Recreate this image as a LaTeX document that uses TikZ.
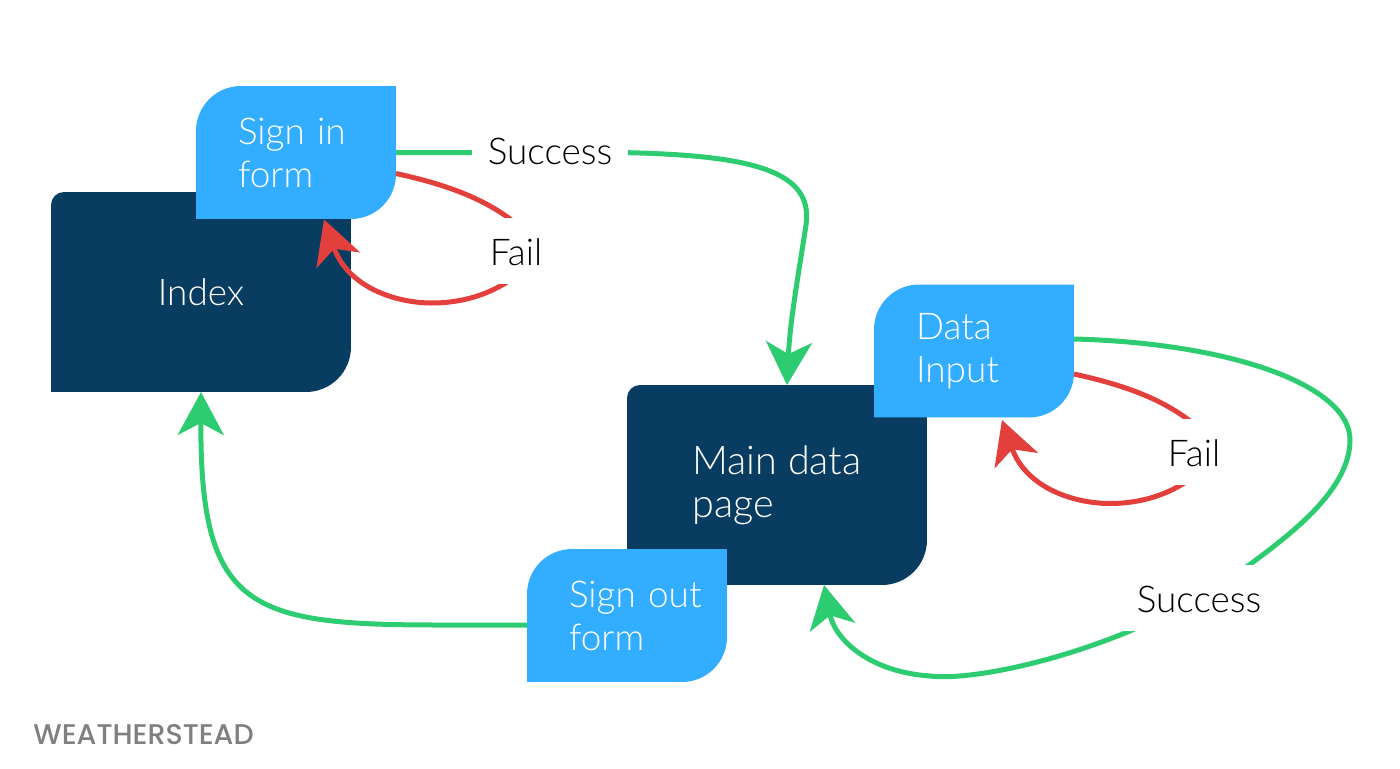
\documentclass[tikz,border=0pt]{standalone}
\usepackage{fontspec}
\setmainfont{Lato}[UprightFont=* Light]
\newfontfamily\logofont{Poppins Medium}
\usetikzlibrary{arrows.meta}
\definecolor{navy}{HTML}{083D61}
\definecolor{sky}{HTML}{33ADFF}
\definecolor{okgreen}{HTML}{2ECC71}
\definecolor{failred}{HTML}{E3403D}
\begin{document}
\begin{tikzpicture}[x=0.02cm,y=-0.02cm]
\def\ppbb{path picture bounding box}
\tikzset{
page/.style={minimum width=6cm,minimum height=4cm,inner sep=0,outer sep=0,text=white,align=left,font=\fontsize{21}{24.4}\selectfont,
path picture={\fill[navy](\ppbb.south west)[rounded corners=.26cm]--(\ppbb.north west)--(\ppbb.north east)[rounded corners=.9cm]--(\ppbb.south east)[sharp corners]--cycle;}},
form/.style={minimum width=4cm,minimum height=2.66cm,inner ysep=0,inner xsep=.84cm,outer sep=0,text width=2.32cm,text=white,align=left,font=\fontsize{21}{24.4}\selectfont,
path picture={\fill[sky](\ppbb.south west)[rounded corners=.9cm]--(\ppbb.north west)[sharp corners]--(\ppbb.north east)[rounded corners=.9cm]--(\ppbb.south east)[sharp corners]--cycle;}},
result/.style={fill=white,inner sep=0,minimum height=1.32cm,text height=16pt,text depth=0pt,font=\fontsize{21}{24}\selectfont},
flow/.style={draw=okgreen,line width=.1cm,-{Stealth[length=.86cm,width=.92cm,inset=.24cm]}},
retry/.style={draw=failred,line width=.1cm,-{Stealth[length=.86cm,width=.92cm,inset=.24cm]}}
}
\useasboundingbox(0,0)rectangle(1400,768);
%%Pages and forms
\node[page](index)at(201,292){Index};
\node[form](signin)at(296,152.5){Sign in\\form};
\node[page,font=\fontsize{22.5}{24.4}\selectfont](main)at(777,485){Main data\\page};
\node[form](datainput)at(974,351){Data\\Input};
\node[form](signout)at(627,615.5){Sign~out\\form};
%%Connectors
\draw[flow](signin.east)--(620,152.5)..controls(750,155)and(814,170)..(806,225)..controls(800,265)and(790,320)..([xshift=.2cm]main.north);
\draw[flow]([yshift=-.19cm]signout.west)--(440,625)..controls(250,625)and(200,610)..(index.south);
\draw[flow]([yshift=.24cm]datainput.east)..controls(1230,343)and(1350,385)..(1350,440)..controls(1350,490)and(1290,535)..(1245,568)..controls(1205,598)and(1170,612)..(1130,631)..controls(1040,668)and(960,680)..(930,676)..controls(870,672)and(835,640)..([xshift=-2.06cm]main.south east);
\foreach \x/\d in {signin/0,datainput/2}
\draw[retry,shift={(\x.east)},shift={(0,\d)}](0,21)..controls(50,32)and(100,48)..(135,85)..controls(146,100)and(125,122)..(107,132)..controls(85,145)and(60,150.5)..(36,150.5)..controls(0,150.5)and(-48,135)..(-72,67);
%%Results on top of the lines
\node[result,minimum width=3.12cm](okin)at(550,150){Success};
\node[result,minimum width=1.8cm](failin)at(516,251){Fail};
\node[result,minimum width=1.8cm](faildata)at(1194,452){Fail};
\node[result,minimum width=3.12cm](okdata)at(1199,598){Success};
\node[anchor=west,inner sep=0,text=black!50,font=\logofont\fontsize{16.2}{20}\selectfont](brand)at(33,735){WEATHERSTEAD};
\end{tikzpicture}
\end{document}
